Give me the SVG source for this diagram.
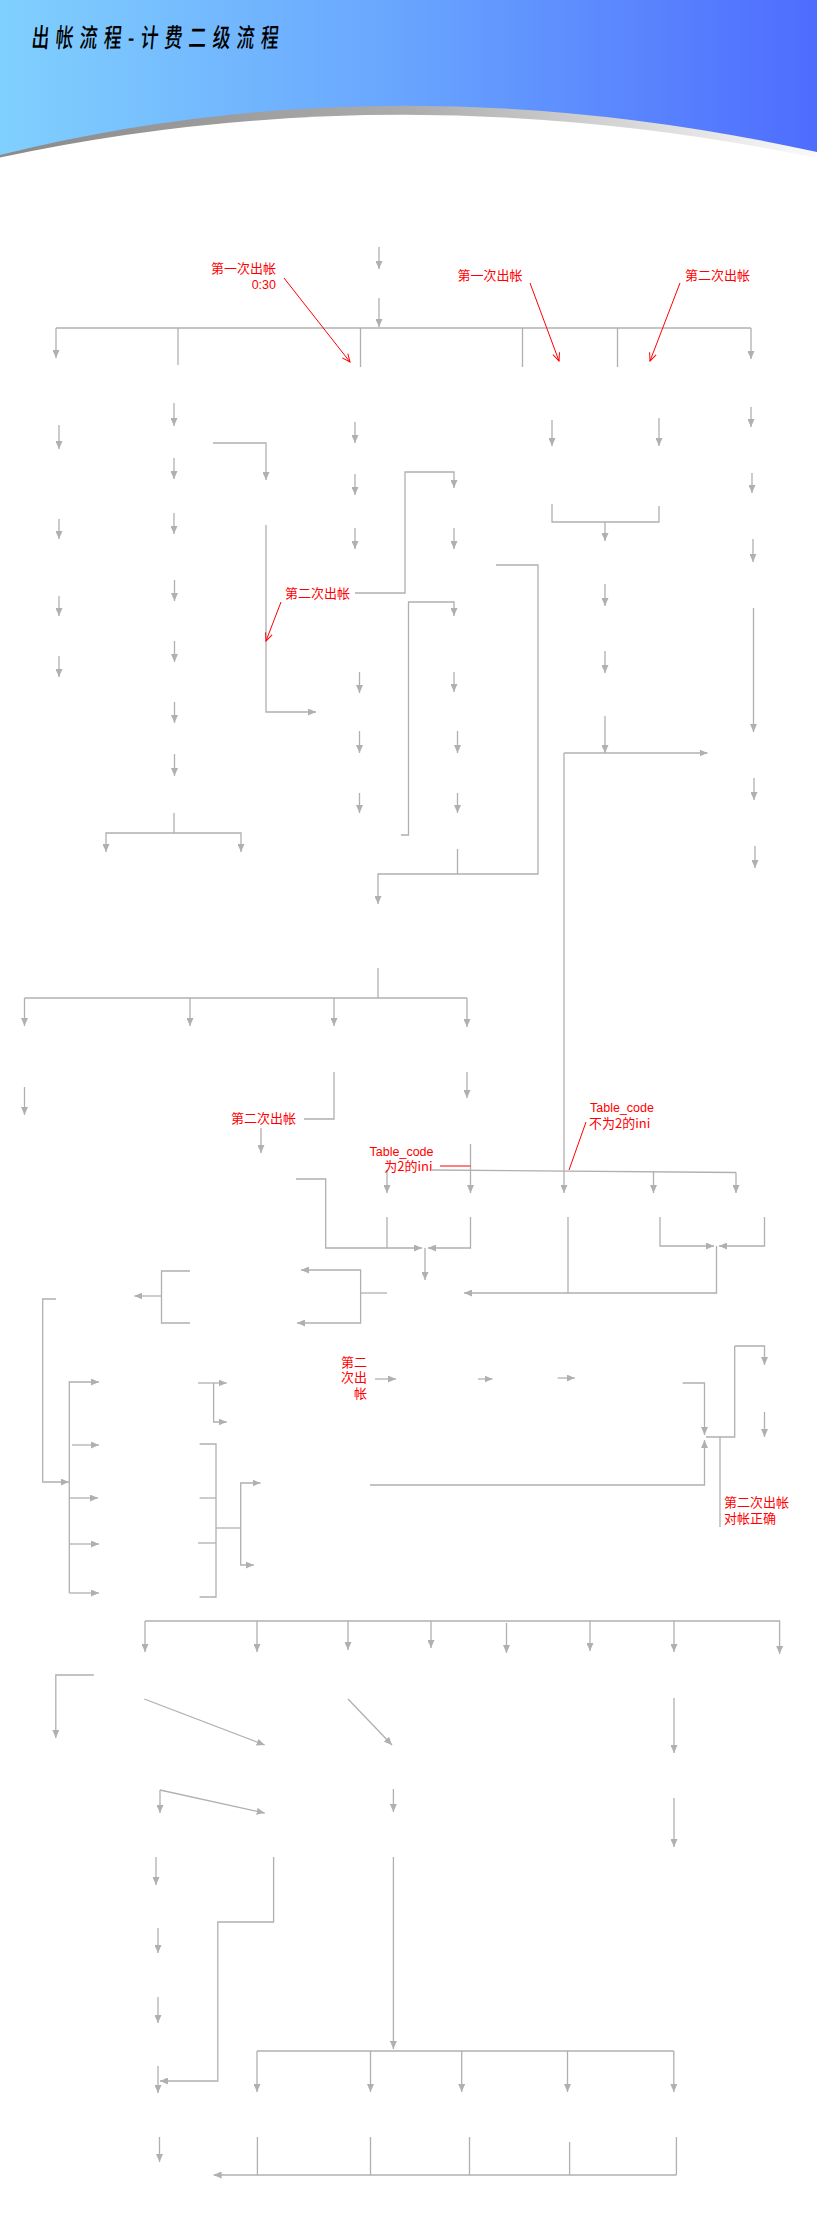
<svg xmlns="http://www.w3.org/2000/svg" width="817" height="2232" viewBox="0 0 817 2232">
<defs>
<linearGradient id="hdr" x1="0" y1="0" x2="1" y2="0">
<stop offset="0" stop-color="#80d0fe"/>
<stop offset="0.5" stop-color="#68a4fe"/>
<stop offset="1" stop-color="#4e6cfe"/>
</linearGradient>
<linearGradient id="shade" x1="0" y1="0" x2="1" y2="0">
<stop offset="0" stop-color="#8a8a8a"/>
<stop offset="0.5" stop-color="#acacac"/>
<stop offset="0.8" stop-color="#dcdcdc"/>
<stop offset="1" stop-color="#fafafa"/>
</linearGradient>
<marker id="a" viewBox="0 0 8 7" refX="8" refY="3.5" markerWidth="8" markerHeight="7" markerUnits="userSpaceOnUse" orient="auto">
<path d="M0,0 L8,3.5 L0,7 z" fill="#b0b0b0"/>
</marker>
<marker id="r" viewBox="0 0 8 7" refX="8" refY="3.5" markerWidth="8" markerHeight="7" markerUnits="userSpaceOnUse" orient="auto" overflow="visible">
<path d="M0,0 L8,3.5 L0,7" fill="none" stroke="#ff0000" stroke-width="1"/>
</marker>
</defs>
<style>
.c path{fill:none;stroke:#b0b0b0;stroke-width:1.3}
.c path.a{marker-end:url(#a)}
.red path{fill:none;stroke:#ff0000;stroke-width:1}
.red path.a{marker-end:url(#r)}
.lbl{font-family:"Noto Sans CJK SC","Liberation Sans",sans-serif;font-size:13px;fill:#ff0000}
.lat{font-family:"Liberation Sans","Noto Sans CJK SC",sans-serif;font-size:12.5px;fill:#ff0000}
</style>
<rect width="817" height="2232" fill="#ffffff"/>
<g id="header">
<rect x="0" y="0" width="817" height="175" fill="url(#hdr)"/>
<path d="M0,155 Q391,58 817,152 L817,175 L0,175 Z" fill="url(#shade)"/>
<path d="M0,157.5 Q400,72 817,158 L817,176 L0,176 Z" fill="#ffffff"/>
<text transform="translate(31,47) scale(0.68,1) skewX(-8)" font-family="'Noto Sans CJK SC',sans-serif" font-size="26" font-weight="500" fill="#000000" textLength="363" lengthAdjust="spacing">出帐流程-计费二级流程</text>
</g>
<g id="connectors" class="c">
<path class="a" d="M379,247 V269"/>
<path class="a" d="M379,298 V327"/>
<path d="M56,328 H751"/>
<path class="a" d="M56,328 V358"/>
<path d="M178,328 V365"/>
<path d="M360.5,328 V367"/>
<path d="M522.5,328 V367"/>
<path d="M617.5,328 V367"/>
<path class="a" d="M751,328 V359"/>
<path class="a" d="M59,425 V449"/>
<path class="a" d="M59,519 V539"/>
<path class="a" d="M59,596 V616"/>
<path class="a" d="M59,656 V677"/>
<path class="a" d="M174,403 V426"/>
<path class="a" d="M174,458 V479"/>
<path class="a" d="M174,513 V534"/>
<path class="a" d="M174.5,580 V601"/>
<path class="a" d="M174.5,641 V662"/>
<path class="a" d="M174.5,702 V723"/>
<path class="a" d="M174.5,754 V776"/>
<path class="a" d="M174,813 V833 H106 V852"/>
<path class="a" d="M174,833 H241 V852"/>
<path class="a" d="M213,443 H266 V480"/>
<path class="a" d="M266,525 V712 H316"/>
<path class="a" d="M355,422 V443"/>
<path class="a" d="M355,474 V495"/>
<path class="a" d="M355,528 V549"/>
<path class="a" d="M355,593 H405 V472 H454 V488"/>
<path class="a" d="M359.5,672 V693"/>
<path class="a" d="M359.5,731 V753"/>
<path class="a" d="M359.5,793 V813"/>
<path class="a" d="M454,528 V549"/>
<path class="a" d="M401,835 H408.5 V602 H454 V616"/>
<path class="a" d="M454,672 V692"/>
<path class="a" d="M457.5,731 V753"/>
<path class="a" d="M457.5,793 V813"/>
<path d="M457.5,849 V874"/>
<path class="a" d="M496,565 H538 V874 H378 V904"/>
<path class="a" d="M552,420 V446"/>
<path class="a" d="M659,418 V446"/>
<path d="M552,504 V522 H659 V506"/>
<path class="a" d="M605,522 V541"/>
<path class="a" d="M605,584 V606"/>
<path class="a" d="M605,651 V673"/>
<path class="a" d="M605,716 V753"/>
<path class="a" d="M564,753 H707.5"/>
<path class="a" d="M564,753 V1193"/>
<path class="a" d="M751,407 V427"/>
<path class="a" d="M752,473 V493"/>
<path class="a" d="M753,539 V562"/>
<path class="a" d="M753.5,608 V732"/>
<path class="a" d="M754,778 V800"/>
<path class="a" d="M755,846 V868"/>
<path d="M378,968 V998"/>
<path d="M24.5,998 H467"/>
<path class="a" d="M24.5,998 V1026"/>
<path class="a" d="M190,998 V1026"/>
<path class="a" d="M334,998 V1026"/>
<path class="a" d="M467,998 V1027"/>
<path class="a" d="M24.5,1087 V1115"/>
<path d="M304,1119 H334 V1072"/>
<path class="a" d="M261,1128 V1153"/>
<path class="a" d="M467,1072 V1098"/>
<path d="M432,1170 L736,1172.5"/>
<path class="a" d="M387,1170 V1193"/>
<path class="a" d="M470.5,1144 V1193"/>
<path class="a" d="M653.5,1171.5 V1193"/>
<path class="a" d="M736,1172.5 V1193"/>
<path class="a" d="M296,1179 H325.7 V1248 H422"/>
<path class="a" d="M470.5,1217 V1248 H428"/>
<path d="M387,1217 V1248"/>
<path class="a" d="M425,1248 V1280"/>
<path class="a" d="M660,1217 V1246 H714"/>
<path class="a" d="M764.5,1217 V1246 H719"/>
<path class="a" d="M716.5,1246 V1293 H464"/>
<path d="M568,1217 V1293"/>
<path d="M387,1293 H360.6"/>
<path class="a" d="M360.6,1293 V1270 H301"/>
<path class="a" d="M360.6,1293 V1323 H297"/>
<path d="M190,1271 H161.5 V1323 H190"/>
<path class="a" d="M161.5,1296 H134.4"/>
<path class="a" d="M56,1299 H42.7 V1482 H68.8"/>
<path d="M734.7,1346 V1437 H706"/>
<path d="M720,1437 V1527"/>
<path class="a" d="M734.7,1346 H764.5 V1365"/>
<path class="a" d="M764.5,1412 V1437"/>
<path class="a" d="M682.6,1383 H704.5 V1435"/>
<path class="a" d="M370,1485 H704.5 V1440"/>
<path class="a" d="M375,1379 H396"/>
<path class="a" d="M478,1379 H492.5"/>
<path class="a" d="M557.6,1378 H574.8"/>
<path class="a" d="M69.3,1593 V1382 H99"/>
<path class="a" d="M69.3,1593 H99"/>
<path class="a" d="M72,1445 H99"/>
<path class="a" d="M69.3,1498 H98"/>
<path class="a" d="M69.3,1544 H99"/>
<path class="a" d="M198,1383 H226.7"/>
<path class="a" d="M213.6,1383 V1422 H226.7"/>
<path d="M199.6,1444 H216 V1597 H199.6"/>
<path d="M199.6,1498 H216"/>
<path d="M198,1543 H216"/>
<path d="M216,1528 H240.7"/>
<path class="a" d="M240.7,1528 V1483 H260.5"/>
<path class="a" d="M240.7,1528 V1565 H253.8"/>
<path d="M145,1621 H780"/>
<path class="a" d="M145,1621 V1652"/>
<path class="a" d="M257,1621 V1652"/>
<path class="a" d="M348,1621 V1650"/>
<path class="a" d="M431,1621 V1648"/>
<path class="a" d="M506.5,1623 V1653"/>
<path class="a" d="M590,1621 V1651"/>
<path class="a" d="M674,1621 V1652"/>
<path class="a" d="M779.6,1621 V1654"/>
<path class="a" d="M93.8,1675 H55.8 V1738"/>
<path class="a" d="M144.3,1699 L264.7,1745"/>
<path class="a" d="M348,1699 L392,1745"/>
<path class="a" d="M674,1698 V1753"/>
<path class="a" d="M160,1790 V1813"/>
<path class="a" d="M160,1790 L264.7,1813"/>
<path class="a" d="M393.4,1789 V1812"/>
<path class="a" d="M674,1798 V1847"/>
<path class="a" d="M156,1857 V1885"/>
<path class="a" d="M273.6,1857 V1922 H217.8 V2081 H160"/>
<path class="a" d="M393.4,1857 V2049"/>
<path class="a" d="M158,1928 V1953"/>
<path class="a" d="M158,1997 V2023"/>
<path class="a" d="M158,2066 V2093"/>
<path d="M257,2051 H673.8"/>
<path class="a" d="M257,2051 V2092"/>
<path class="a" d="M370.5,2051 V2092"/>
<path class="a" d="M461.7,2051 V2092"/>
<path class="a" d="M567.5,2051 V2092"/>
<path class="a" d="M673.8,2051 V2092"/>
<path class="a" d="M159.5,2137 V2162"/>
<path d="M257.4,2137 V2175"/>
<path d="M370.5,2137 V2175"/>
<path d="M469.5,2137 V2175"/>
<path d="M569.6,2142 V2175"/>
<path d="M676.4,2137 V2175"/>
<path class="a" d="M676.4,2175 H213.6"/>
</g>
<g id="annotations" class="red">
<path class="a" d="M284,278 L350,362"/>
<path class="a" d="M530,283 L559,361"/>
<path class="a" d="M680,283 L650,361"/>
<path class="a" d="M281,602 L266,641"/>
<path d="M440,1166 H470.5"/>
<path d="M586,1122 L569,1170"/>
</g>
<g id="label-first-030">
<text class="lbl" x="276" y="272.5" text-anchor="end">第一次出帐</text>
<text class="lat" x="276" y="288.5" text-anchor="end" font-size="11">0:30</text>
</g>
<g id="label-first"><text class="lbl" x="457.5" y="279.5">第一次出帐</text></g>
<g id="label-second-a"><text class="lbl" x="685" y="279.5">第二次出帐</text></g>
<g id="label-second-b"><text class="lbl" x="350" y="597.5" text-anchor="end">第二次出帐</text></g>
<g id="label-second-c"><text class="lbl" x="296" y="1122.5" text-anchor="end">第二次出帐</text></g>
<g id="label-table2">
<text class="lat" x="433.5" y="1155.5" text-anchor="end">Table_code</text>
<text class="lbl" x="432.5" y="1170.5" text-anchor="end">为2的ini</text>
</g>
<g id="label-tablenot2">
<text class="lat" x="590" y="1111.5">Table_code</text>
<text class="lbl" x="589" y="1127.5">不为2的ini</text>
</g>
<g id="label-second-d">
<text class="lbl" x="367" y="1366.5" text-anchor="end">第二</text>
<text class="lbl" x="367" y="1381.5" text-anchor="end">次出</text>
<text class="lbl" x="367" y="1397.5" text-anchor="end">帐</text>
</g>
<g id="label-second-ok">
<text class="lbl" x="724" y="1506.5">第二次出帐</text>
<text class="lbl" x="724" y="1522.5">对帐正确</text>
</g>
</svg>
